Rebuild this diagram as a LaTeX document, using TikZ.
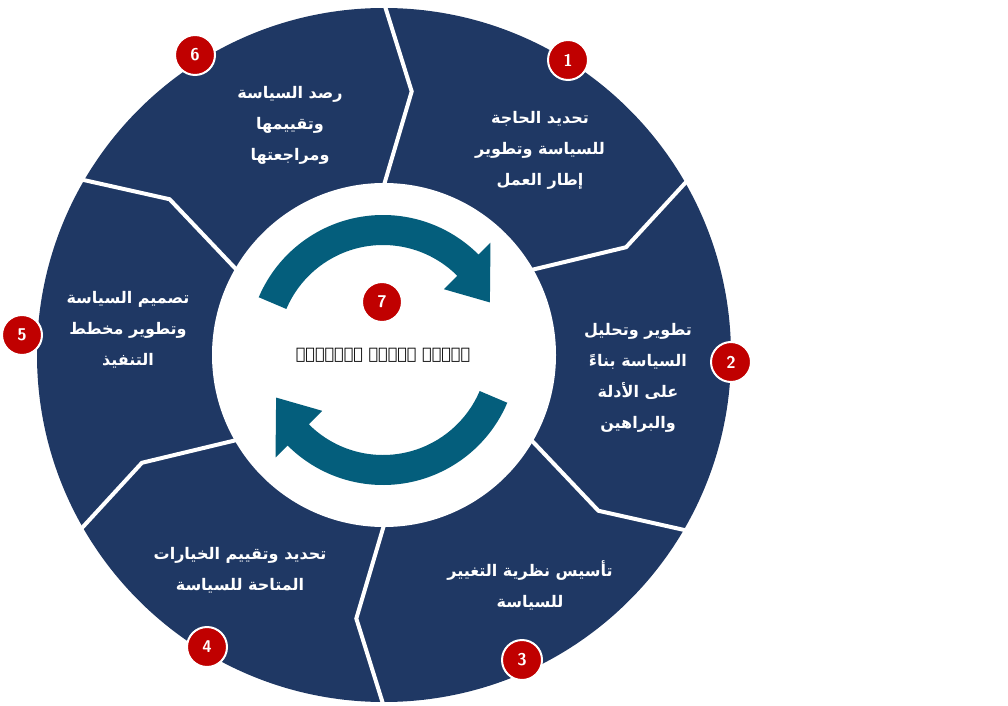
\documentclass[tikz,border=0pt]{standalone}
\usepackage{fontspec}
\usetikzlibrary{positioning}
\TeXXeTstate=1
\newfontfamily\arabicfont[Script=Arabic]{DejaVu Sans}
\definecolor{navy}{RGB}{31,56,100}
\definecolor{cycleteal}{RGB}{4,94,124}
\definecolor{badgered}{RGB}{192,0,0}
\tikzset{x=1pt,y=1pt,
every node/.style={font=\arabicfont\bfseries},
steptext/.style={text=white, align=center, font=\arabicfont\bfseries\fontsize{16}{31}\selectfont},
badge/.style={circle, fill=badgered, draw=white, line width=2pt, minimum size=40pt, inner sep=0pt, text=white, font=\sffamily\bfseries\fontsize{17}{17}\selectfont},
cut/.style={white, line width=4pt},
cycle arrow/.style={fill=cycleteal},
}
\newcommand{\rl}[1]{\beginR #1\endR}

\begin{document}
\begin{tikzpicture}
    \useasboundingbox (0,0) rectangle (1008,705);
    % ring
    \begin{scope}[shift={(384,350)}]
        \fill[navy] (0,0) circle[radius=347];
        \foreach \a in {90,30,-30,-90,-150,150}
            \draw[cut] (\a:352) -- (\a-6:265) -- (\a:170);
        \fill[white] (0,0) circle[radius=172];
    \end{scope}
    % arrows
    \begin{scope}[shift={(383,355)}]
        \foreach \r in {0,180}
        \fill[cycle arrow, rotate=\r] (157:135) arc[start angle=157, end angle=45, radius=135]
            -- (45:152) -- (24:117) -- (45:86) -- (45:105)
            arc[start angle=45, end angle=157, radius=105] -- cycle;
    \end{scope}
    % texts
    \node[steptext] (t1) at (540,555) {\rl{تحديد الحاجة}\\\rl{للسياسة وتطوير}\\\rl{إطار العمل}};
    \node[steptext] (t2) at (638,327) {\rl{تطوير وتحليل}\\\rl{السياسة بناءً}\\\rl{على الأدلة}\\\rl{والبراهين}};
    \node[steptext] (t3) at (530,120) {\rl{تأسيس نظرية التغيير}\\\rl{للسياسة}};
    \node[steptext] (t4) at (240,135) {\rl{تحديد وتقييم الخيارات}\\\rl{المتاحة للسياسة}};
    \node[steptext] (t5) at (128,375) {\rl{تصميم السياسة}\\\rl{وتطوير مخطط}\\\rl{التنفيذ}};
    \node[steptext] (t6) at (290,580) {\rl{رصد السياسة}\\\rl{وتقييمها}\\\rl{ومراجعتها}};
    \node[font=\arabicfont\bfseries\itshape\fontsize{16}{16}\selectfont] (t7) at (383,350) {\rl{إشراك أصحاب العلاقة}};
    % badges
    \node[badge] (b1) at (568,645) {1};
    \node[badge] (b2) at (731,343) {2};
    \node[badge] (b3) at (522,45) {3};
    \node[badge] (b4) at (207,58) {4};
    \node[badge] (b5) at (22,370) {5};
    \node[badge] (b6) at (195,650) {6};
    \node[badge] (b7) at (382,403) {7};
\end{tikzpicture}
\end{document}
